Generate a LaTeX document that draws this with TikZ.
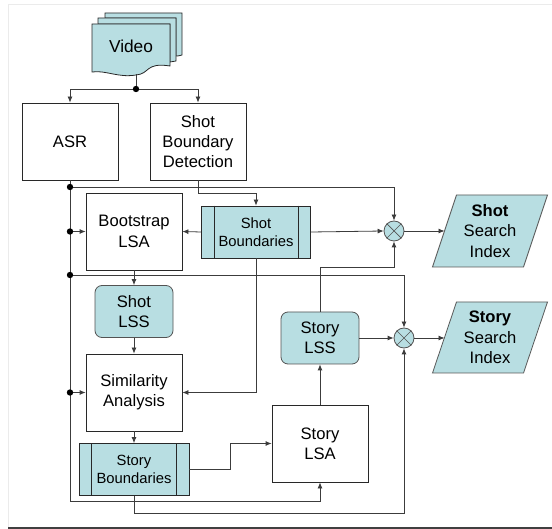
\documentclass[tikz,border=0pt]{standalone}
\usepackage{fontspec}
\setmainfont{Liberation Sans}
\usetikzlibrary{arrows.meta}
\definecolor{teal1}{RGB}{184,222,226}
\definecolor{wire}{RGB}{60,60,60}
\definecolor{edgec}{RGB}{40,40,40}
\begin{document}
\begin{tikzpicture}[x=1pt,y=-1pt,
  font=\fontsize{16.6}{20.3}\selectfont,
  box/.style={draw=edgec,line width=0.8pt,fill=white,align=center,inner sep=0pt,minimum width=96pt,minimum height=77pt},
  procbox/.style={draw=edgec,line width=0.8pt,fill=teal1,align=center,inner sep=0pt,minimum width=110pt,minimum height=52pt,font=\fontsize{14.8}{18}\selectfont},
  lssbox/.style={draw=edgec!80,line width=0.8pt,fill=teal1,align=center,inner sep=0pt,rounded corners=7pt,minimum width=78pt,minimum height=52pt},
  xnode/.style={circle,draw=edgec!80,line width=0.8pt,fill=teal1,minimum size=20pt,inner sep=0pt},
  wire/.style={draw=wire,line width=0.8pt},
  arr/.style={wire,-{Latex[length=6pt,width=5pt]}},
  jdot/.style={fill=black}
]
\useasboundingbox (0,0) rectangle (552,529);
\fill[white] (0,0) rectangle (552,529);
\draw[black!8,line width=1pt] (8,529) -- (8,5) -- (552,5);
\draw[black!75,line width=2pt] (8,528) -- (552,528);

% Video document stack
\draw[edgec,line width=0.8pt,fill=teal1] (105,13) -- (182,13) -- (182,55) .. controls (178,56) .. (176,56) -- (176,18) -- (105,18) -- cycle;
\draw[edgec,line width=0.8pt,fill=teal1] (98,18) -- (176,18) -- (176,61) .. controls (173,62) .. (170,62) -- (170,24) -- (98,24) -- cycle;
\draw[edgec,line width=0.8pt,fill=teal1] (92,24) -- (170,24) -- (170,66) .. controls (145,62) and (150,74) .. (136,75) .. controls (118,78) and (106,70) .. (92,72) -- cycle;
\node[font=\fontsize{17.3}{20}\selectfont] (video) at (131,46) {Video};
\coordinate (vbot) at (136,74.5);

% Boxes
\node[box] (asr) at (70,141.5) {ASR};
\node[box] (sbd) at (198,141.5) {Shot\\Boundary\\Detection};
\node[box] (boot) at (134,231.5) {Bootstrap\\LSA};
\node[procbox,minimum width=109pt] (sb) at (256,232) {Shot\\Boundaries};
\node[lssbox] (shotlss) at (134,311.5) {Shot\\LSS};
\node[box] (sim) at (134,392.5) {Similarity\\Analysis};
\node[procbox] (stb) at (134,469.5) {Story\\Boundaries};
\node[box] (stlsa) at (320,443.5) {Story\\LSA};
\node[lssbox] (stlss) at (320,338) {Story\\LSS};
\node[xnode] (xs) at (394,231) {};
\node[xnode] (xt) at (404,338) {};
\foreach \n in {xs,xt}{
  \draw[edgec!80,line width=0.7pt] (\n.45) -- (\n.225) (\n.135) -- (\n.315);
}
\foreach \n in {sb,stb}{
  \draw[edgec,line width=0.8pt] ([xshift=13pt]\n.north west) -- ([xshift=13pt]\n.south west);
  \draw[edgec,line width=0.8pt] ([xshift=-13pt]\n.north east) -- ([xshift=-13pt]\n.south east);
}

% Search index parallelograms
\draw[draw=black!65,line width=0.8pt,fill=teal1] (456.5,195) -- (547.5,195) -- (523.5,267) -- (432.5,267) -- cycle;
\node[align=center] (shotidx) at (490,231) {\textbf{Shot}\\Search\\Index};
\coordinate (shotidxin) at (444.5,231);
\draw[draw=black!65,line width=0.8pt,fill=teal1] (456.5,302) -- (547.5,302) -- (523.5,373) -- (432.5,373) -- cycle;
\node[align=center] (storyidx) at (490,337.5) {\textbf{Story}\\Search\\Index};
\coordinate (storyidxin) at (444.5,338);

% Junctions
\coordinate (vdot) at (136,89);
\coordinate (j1) at (70,187);
\coordinate (j2) at (boot.west -| asr.south);
\coordinate (j3) at (70,275);
\coordinate (j4) at (sim.west -| asr.south);
\coordinate (lowL) at (70,501);
\coordinate (sbdturn) at (198,193);
\coordinate (lssturn) at (320,267);
\coordinate (stbturn) at (230,469.5);
\coordinate (stbbot) at (134,513);

% Connectors
\draw[wire] (vbot) -- (vdot);
\draw[arr] (vdot) -| (asr.north);
\draw[arr] (vdot) -| (sbd.north);
\draw[wire] (asr.south) -- (lowL);
\draw[arr] (lowL) -| (stlsa.south);
\draw[arr] (j1) -| (xs.north);
\draw[arr] (j2) -- (boot.west);
\draw[arr] (j3) -| (xt.north);
\draw[arr] (j4) -- (sim.west);
\draw[wire] (sbd.south) -- (sbdturn);
\draw[arr] (sbdturn) -| (sb.north);
\draw[arr] (sb.west) -- (boot.east);
\draw[arr] (sb.east) -- (xs.west);
\draw[arr] (sb.south) |- (sim.east);
\draw[arr] (boot.south) -- (shotlss.north);
\draw[arr] (shotlss.south) -- (sim.north);
\draw[arr] (sim.south) -- (stb.north);
\draw[wire] (stb.east) -- (stbturn);
\draw[arr] (stbturn) |- (stlsa.west);
\draw[wire] (stb.south) -- (stbbot);
\draw[arr] (stbbot) -| (xt.south);
\draw[arr] (stlsa.north) -- (stlss.south);
\draw[wire] (stlss.north) -- (lssturn);
\draw[arr] (lssturn) -| (xs.south);
\draw[arr] (stlss.east) -- (xt.west);
\draw[arr] (xs.east) -- (shotidxin);
\draw[arr] (xt.east) -- (storyidxin);

\foreach \c in {vdot,j1,j2,j3,j4}{
  \fill[jdot] (\c) circle[radius=3.2pt];
}
\end{tikzpicture}
\end{document}
